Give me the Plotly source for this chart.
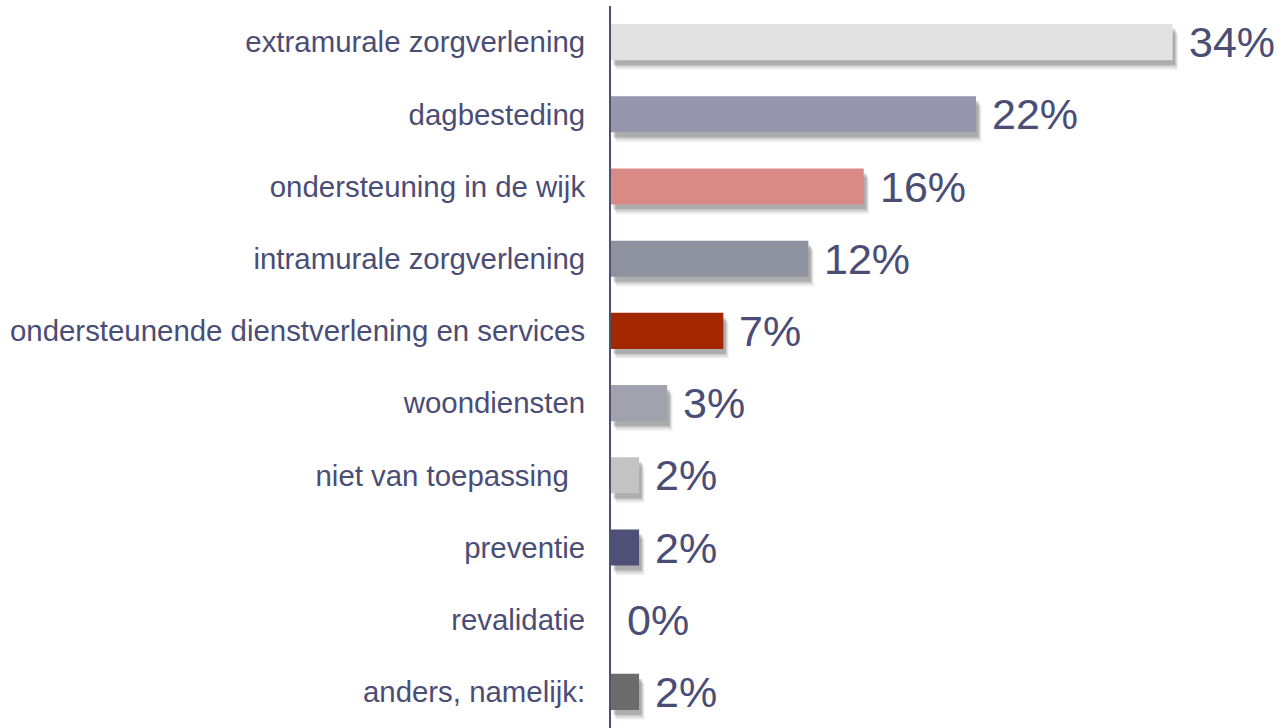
import plotly.graph_objects as go

# Categories (top to bottom), bar lengths (%), printed labels
categories = [
    "extramurale zorgverlening",
    "dagbesteding",
    "ondersteuning in de wijk",
    "intramurale zorgverlening",
    "ondersteunende dienstverlening en services",
    "woondiensten",
    "niet van toepassing\u00a0\u00a0",
    "preventie",
    "revalidatie",
    "anders, namelijk:",
]
values = [34.0, 22.1, 15.3, 11.95, 6.8, 3.4, 1.7, 1.7, 0.0, 1.7]
labels = ["34%", "22%", "16%", "12%", "7%", "3%", "2%", "2%", "0%", "2%"]
bar_colors = [
    "#E2E2E2", "#9696AE", "#D98A85", "#8E919E", "#A32800",
    "#A2A2AE", "#C3C3C3", "#4F5078", "#FFFFFF", "#6B6B6B",
]

TEXT = "#4A4D75"
FONT = "Liberation Sans, Arial, sans-serif"

fig = go.Figure()

# zachte schaduw: een paar lagen onder de balken
for shift, base, alpha in [(0.13, 0.32, 0.10), (0.10, 0.24, 0.16), (0.07, 0.16, 0.26)]:
    fig.add_trace(go.Bar(
        y=categories,
        x=[v if v > 0 else None for v in values],
        base=base,
        orientation="h",
        width=0.5,
        offset=-0.25 + shift,
        marker=dict(color=f"rgba(70,70,70,{alpha})", line=dict(width=0)),
        hoverinfo="skip",
        showlegend=False,
    ))

fig.add_trace(go.Bar(
    y=categories,
    x=values,
    orientation="h",
    width=0.5,
    offset=-0.25,
    marker=dict(color=bar_colors, line=dict(width=0)),
    showlegend=False,
))

for cat, v, lab in zip(categories, values, labels):
    fig.add_annotation(
        x=v, y=cat, text=lab, showarrow=False,
        xanchor="left", yanchor="middle", xshift=14,
        font=dict(family=FONT, size=43, color=TEXT),
    )

fig.update_layout(
    width=1280,
    height=728,
    barmode="overlay",
    plot_bgcolor="white",
    paper_bgcolor="white",
    margin=dict(l=611, r=0, t=6, b=0),
    font=dict(family=FONT, color=TEXT),
)
fig.update_xaxes(
    range=[0, 40.5],
    visible=False,
    showgrid=False,
    zeroline=False,
)
fig.update_yaxes(
    type="category",
    autorange="reversed",
    showgrid=False,
    zeroline=False,
    showline=True,
    linecolor="#4F5078",
    linewidth=2,
    ticks="",
    ticklabelstandoff=18,
    tickfont=dict(family=FONT, size=29.4, color=TEXT),
)

# body-marge van de pagina weghalen zodat de figuur op (0,0) staat
fig.write_html(
    "out.html",
    config={"displayModeBar": False},
    post_script="document.body.style.margin='0';",
)
